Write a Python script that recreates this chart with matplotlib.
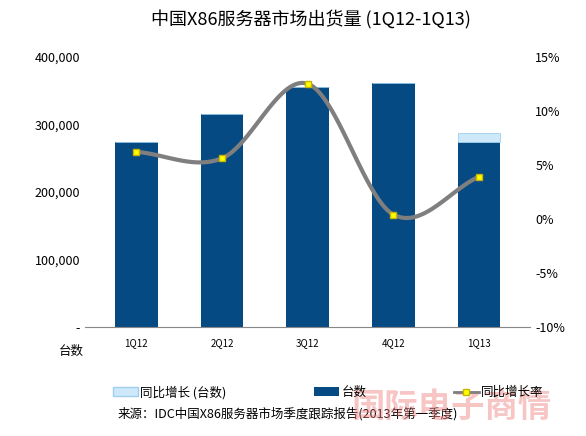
import numpy as np
import matplotlib.pyplot as plt
from matplotlib.lines import Line2D
from matplotlib.patches import Patch

plt.rcParams['font.family'] = ['Noto Sans CJK SC', 'DejaVu Sans']

quarters = ['1Q12', '2Q12', '3Q12', '4Q12', '1Q13']
units = [274000, 315500, 355500, 361000, 274000]
growth_units = [0, 0, 0, 0, 13000]
growth_rate = [6.2, 5.6, 12.5, 0.4, 3.9]

DARK = '#064A84'
LIGHT = '#CDE8F8'


def smooth(xs, ys, n=30):
    # Catmull-Rom curve through the points, for drawing only
    xs = np.asarray(xs, float)
    ys = np.asarray(ys, float)
    px = np.concatenate([[2 * xs[0] - xs[1]], xs, [2 * xs[-1] - xs[-2]]])
    py = np.concatenate([[2 * ys[0] - ys[1]], ys, [2 * ys[-1] - ys[-2]]])
    ox, oy = [], []
    t = np.linspace(0, 1, n)
    for i in range(1, len(px) - 2):
        for p, o in ((px, ox), (py, oy)):
            p0, p1, p2, p3 = p[i - 1:i + 3]
            o.extend(0.5 * (2 * p1 + (-p0 + p2) * t + (2 * p0 - 5 * p1 + 4 * p2 - p3) * t ** 2
                            + (-p0 + 3 * p1 - 3 * p2 + p3) * t ** 3))
    return ox, oy


fig = plt.figure(figsize=(5.86, 4.36), dpi=100)
ax = fig.add_axes([0.145, 0.25, 0.76, 0.62])
x = np.arange(len(quarters))
ax.bar(x, units, width=0.5, color=DARK, zorder=2)
ax.bar(x, growth_units, bottom=units, width=0.5, color=LIGHT, edgecolor='#9FCFEF', linewidth=0.6, zorder=2)
ax.set_xlim(-0.6, 4.6)
ax.set_ylim(0, 400000)
ax.set_yticks([0, 100000, 200000, 300000, 400000])
ax.set_yticklabels(['-', '100,000', '200,000', '300,000', '400,000'], fontsize=9)
ax.set_xticks(x)
ax.set_xticklabels(quarters, fontsize=7)
for s in ['top', 'right', 'left']:
    ax.spines[s].set_visible(False)
ax.spines['bottom'].set_color('#888888')
ax.tick_params(axis='y', length=0)
ax.tick_params(axis='x', length=0, pad=8)

ax2 = ax.twinx()
ax2.set_ylim(-10, 15)
ax2.set_yticks([-10, -5, 0, 5, 10, 15])
ax2.set_yticklabels(['-10%', '-5%', '0%', '5%', '10%', '15%'], fontsize=9)
for s in ['top', 'right', 'left', 'bottom']:
    ax2.spines[s].set_visible(False)
ax2.tick_params(axis='y', length=0)
sx, sy = smooth(x, growth_rate)
ax2.plot(sx, sy, color='#7F7F7F', linewidth=3, solid_capstyle='round', zorder=3)
ax2.plot(x, growth_rate, 's', color='#FFFF00', markeredgecolor='#C8B400', markersize=5, zorder=4)

fig.text(0.53, 0.955, '中国X86服务器市场出货量 (1Q12-1Q13)', ha='center', va='center', fontsize=13)
fig.text(0.10, 0.185, '台数', fontsize=9)

handles = [Patch(facecolor=LIGHT, edgecolor='#9FCFEF'),
           Patch(facecolor=DARK),
           Line2D([], [], color='#7F7F7F', linewidth=2, marker='s', markerfacecolor='#FFFF00',
                  markeredgecolor='#C8B400', markersize=4)]
fig.legend(handles, ['同比增长 (台数)', '台数', '同比增长率'], loc='center', bbox_to_anchor=(0.56, 0.1),
           ncol=3, frameon=False, fontsize=9, columnspacing=7, handlelength=2, handletextpad=0.2)
fig.text(0.2, 0.05, '来源：IDC中国X86服务器市场季度跟踪报告(2013年第一季度)', fontsize=9, va='center')
fig.text(0.77, 0.065, '国际电子商情', fontsize=24, color='#F08080', alpha=0.45, ha='center', va='center',
         fontweight='bold')

fig.savefig('out.png', dpi=100)
